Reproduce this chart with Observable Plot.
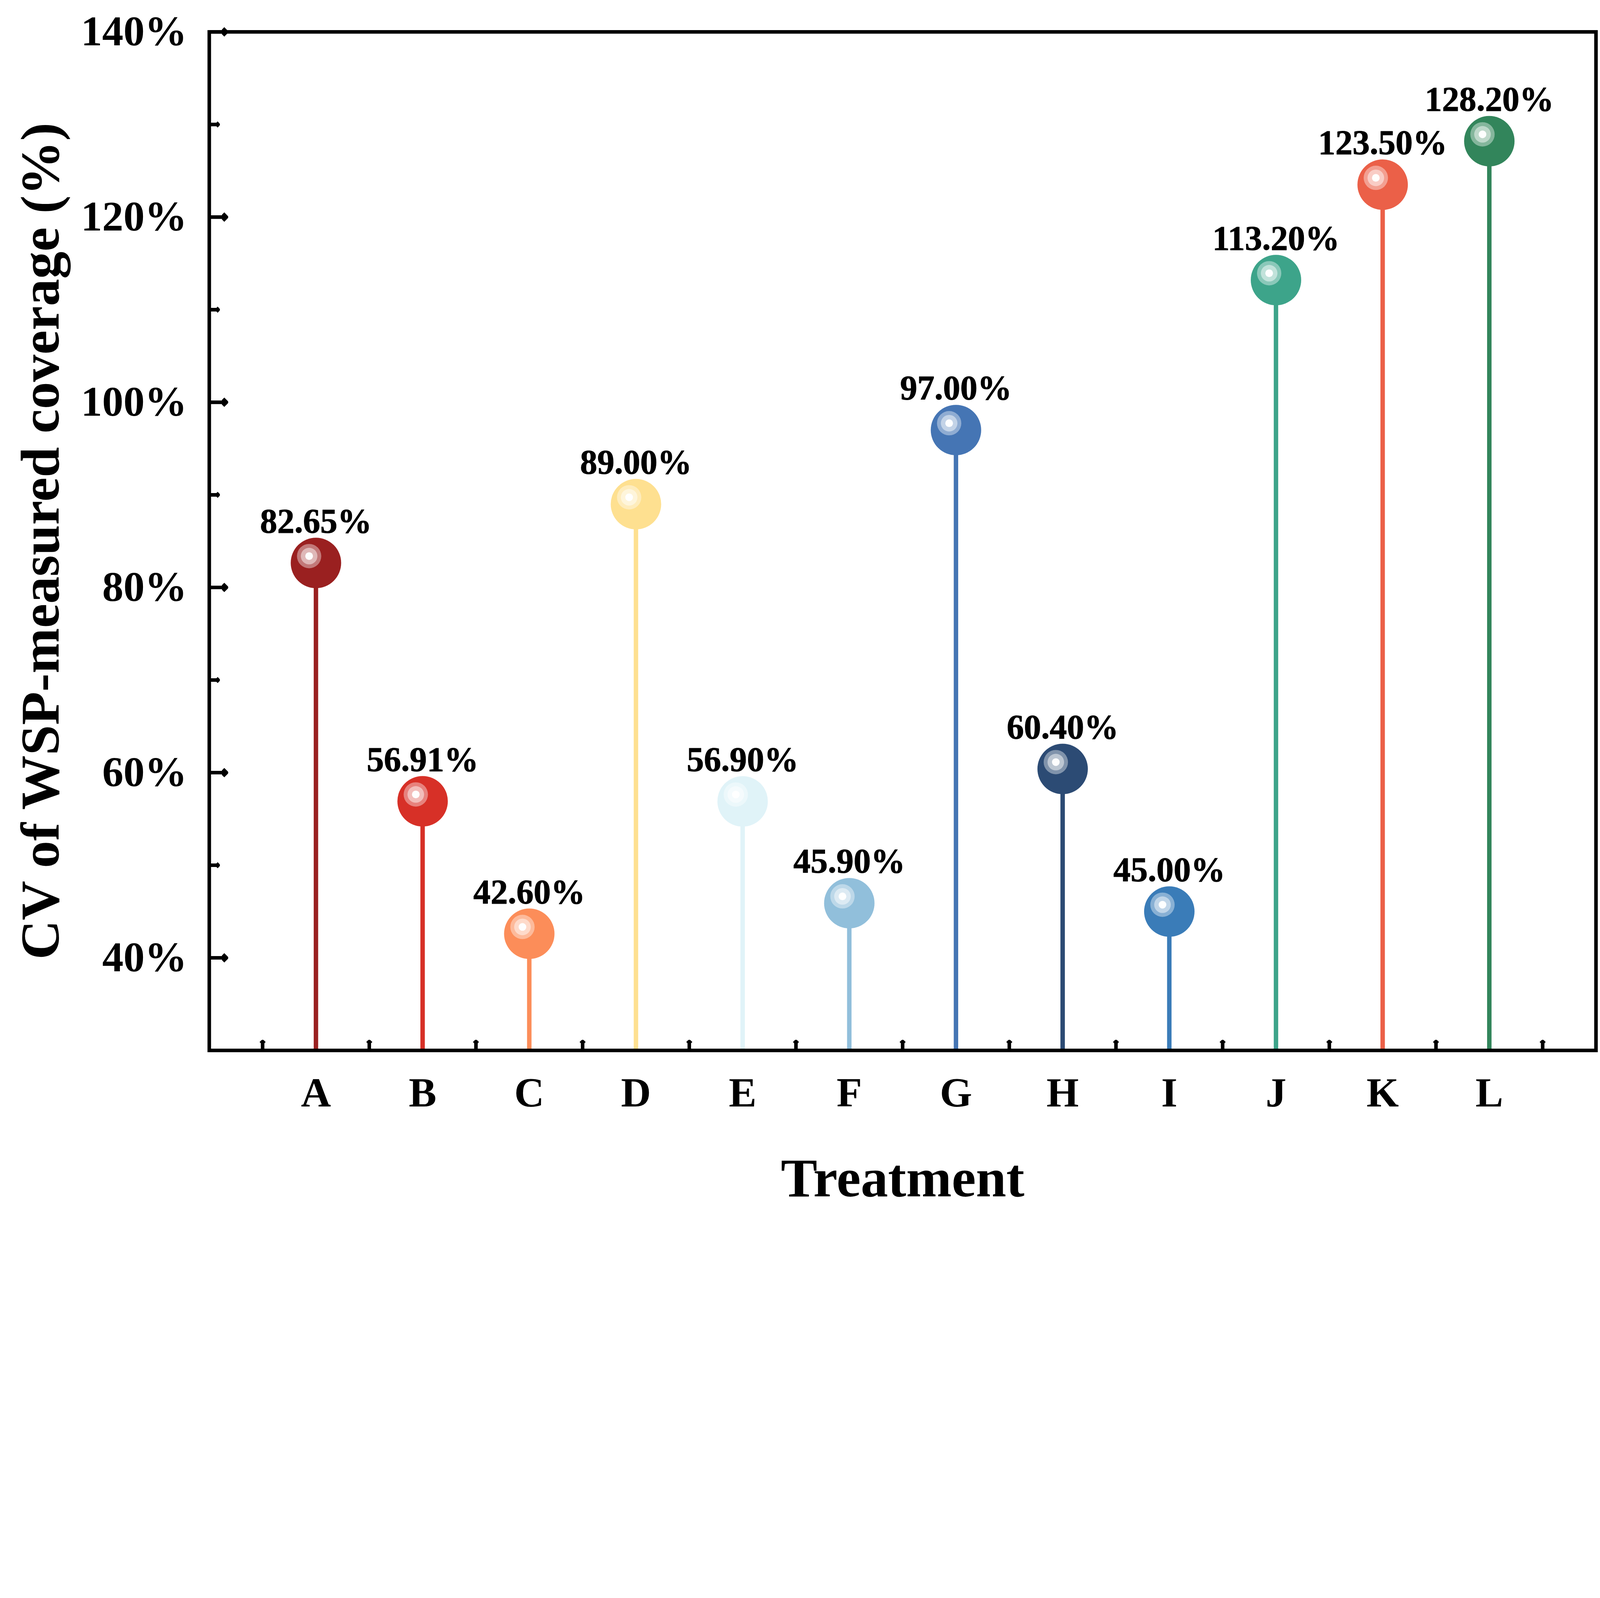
<!DOCTYPE html>
<html>
<head>
<meta charset="utf-8">
<script src="https://cdn.jsdelivr.net/npm/d3@7"></script>
<script src="https://cdn.jsdelivr.net/npm/@observablehq/plot@0.6"></script>
<style>
  html, body { margin: 0; padding: 0; background: white; overflow: hidden; }
  svg { display: block; }
</style>
</head>
<body>
<div id="chart"></div>
<script>
const categories = ["A", "B", "C", "D", "E", "F", "G", "H", "I", "J", "K", "L"];
const values = [82.65, 56.91, 42.60, 89.00, 56.90, 45.90, 97.00, 60.40, 45.00, 113.20, 123.50, 128.20];
const colors = ["#9A2020", "#D73027", "#FC8D59", "#FEE090", "#E0F3F8", "#91BFDB",
                "#4575B4", "#2C4B74", "#3A7CB8", "#3DA48A", "#EB6048", "#32855B"];
const yMajorTicks = [40, 60, 80, 100, 120, 140];
const yMinorTicks = [50, 70, 90, 110, 130];
const xTitle = "Treatment";
const yTitle = "CV of WSP-measured coverage (%)";

const data = categories.map((c, i) => ({cat: c, pos: i + 1, value: values[i], color: colors[i]}));
const xPositions = data.map(d => d.pos);
const xMinorTicks = [0, ...xPositions].map(p => p + 0.5);
const yMin = 30, yMax = 140;
const font = "Liberation Serif, Times New Roman, serif";

const chart = Plot.plot({
  width: 5394,
  height: 4090,
  marginLeft: 705,
  marginRight: 14,
  marginTop: 107,
  marginBottom: 550,
  style: {background: "white", fontFamily: font, color: "black"},
  x: {domain: [0, categories.length + 1]},
  y: {domain: [yMin, yMax]},
  color: {type: "identity"},
  marks: [
    Plot.ruleX(data, {x: "pos", y1: yMin, y2: "value", stroke: d => d.color, strokeWidth: 15}),
    Plot.dot(data, {x: "pos", y: "value", r: 85, fill: d => d.color, stroke: null}),
    Plot.dot(data, {x: "pos", y: "value", r: 41, dx: -23, dy: -23, fill: "white", fillOpacity: 0.4, stroke: null}),
    Plot.dot(data, {x: "pos", y: "value", r: 28, dx: -23, dy: -23, fill: "white", fillOpacity: 0.47, stroke: null}),
    Plot.dot(data, {x: "pos", y: "value", r: 13, dx: -23, dy: -23, fill: "white", fillOpacity: 0.97, stroke: null}),
    Plot.text(data, {x: "pos", y: "value", text: d => d.value.toFixed(2) + "%", dy: -103, lineAnchor: "bottom",
      fontSize: 116, fontWeight: "bold", fontFamily: font, fill: "black", stroke: "black", strokeWidth: 1.5}),
    Plot.axisY({ticks: yMajorTicks, tickSize: 0, tickPadding: 75, tickFormat: d => d + "%",
      fontSize: 143, fontWeight: "bold", fontFamily: font, label: null}),
    Plot.axisX({ticks: xPositions, tickSize: 0, tickPadding: 90, tickFormat: d => categories[d - 1],
      fontSize: 140, fontWeight: "bold", fontFamily: font, label: null}),
    Plot.vector(yMajorTicks, {y: d => d, frameAnchor: "left", length: 58, rotate: 90, anchor: "start",
      stroke: "black", strokeWidth: 12, strokeLinecap: "butt"}),
    Plot.vector(yMinorTicks, {y: d => d, frameAnchor: "left", length: 30, rotate: 90, anchor: "start",
      stroke: "black", strokeWidth: 12, strokeLinecap: "butt"}),
    Plot.vector(xMinorTicks, {x: d => d, frameAnchor: "bottom", length: 30, rotate: 0, anchor: "start",
      stroke: "black", strokeWidth: 12, strokeLinecap: "butt"}),
    Plot.frame({stroke: "black", strokeWidth: 12}),
    Plot.text([xTitle], {frameAnchor: "bottom", dy: 492, lineAnchor: "bottom", textAnchor: "middle", text: d => d,
      fontSize: 184, fontWeight: "bold", fontFamily: font, fill: "black"}),
    Plot.text([yTitle], {frameAnchor: "left", dx: -567, rotate: -90, lineAnchor: "middle", textAnchor: "middle", text: d => d,
      fontSize: 184, fontWeight: "bold", fontFamily: font, fill: "black"})
  ]
});
document.getElementById("chart").appendChild(chart);
</script>
</body>
</html>
